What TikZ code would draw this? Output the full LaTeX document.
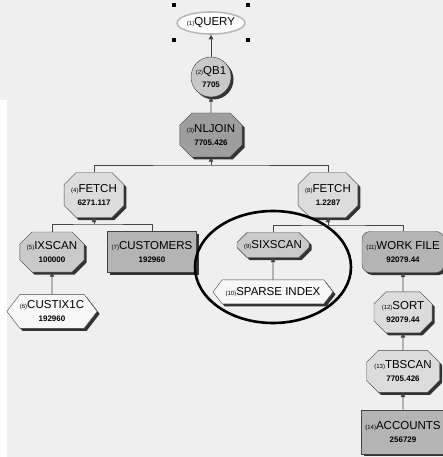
\documentclass[tikz,border=0pt]{standalone}
\usepackage{fontspec}
\setmainfont{Liberation Sans}
\usepackage{tikz}
\usetikzlibrary{arrows.meta,positioning,fit,shapes.geometric,shapes.misc,shapes.symbols,shadows}
\definecolor{PanelGray}{HTML}{EFEFEF}
\definecolor{EdgeGray}{HTML}{454545}
\definecolor{OpLight}{HTML}{DCDCDC}
\definecolor{OpMid}{HTML}{C8C8C8}
\definecolor{OpDark}{HTML}{9E9E9E}
\definecolor{TableGray}{HTML}{B4B4B4}
\definecolor{IdxWhite}{HTML}{F8F8F8}

\newcommand{\opno}[1]{{\fontsize{6}{6}\selectfont(#1)}}
\newcommand{\opcost}[1]{{\bfseries\fontsize{8}{9}\selectfont #1}}

\begin{document}
\begin{tikzpicture}[x=1pt, y=-1pt,
    font=\fontsize{11.5}{13}\selectfont,
    shade/.style={drop shadow={shadow xshift=2.5pt, shadow yshift=-2.5pt, opacity=1, fill=black!80}},
    oper/.style={chamfered rectangle, chamfered rectangle xsep=6pt, chamfered rectangle ysep=6pt, draw=EdgeGray, fill=OpLight, shade, align=center, inner sep=1pt},
    tbl/.style={rectangle, draw=EdgeGray, fill=TableGray, shade, align=center, inner sep=1pt},
    idx/.style={signal, signal to=east and west, signal pointer angle=105, draw=EdgeGray, fill=IdxWhite, shade, align=center, inner xsep=0pt, inner ysep=1pt},
    link/.style={draw=EdgeGray, line width=0.8pt},
    arr/.style={link, -{Triangle[length=4.5pt, width=4.5pt]}}
]
\fill[PanelGray] (0,0) rectangle (443,457);
\fill[white] (0,100) rectangle (7,457);
\useasboundingbox (0,0) rectangle (443,457);

\node[ellipse, draw=gray!55, line width=1.6pt, fill=white, minimum width=60pt, minimum height=22pt, inner sep=0pt] (query) at (211,23) {\opno{1}QUERY};
\node[fit=(query), inner xsep=2pt, inner ysep=5.5pt] (qsel) {};
\node[circle, draw=EdgeGray, fill=OpMid, shade, minimum size=40pt, inner sep=0pt, align=center] (qb) at (211,77) {\opno{2}QB1\\\opcost{7705}};
\node[oper, fill=OpDark, minimum width=54pt, minimum height=44pt] (nljoin) at (211,135) {\opno{3}NLJOIN\\\opcost{7705.426}};

\node[oper, minimum width=58pt, minimum height=45pt] (fetchl) at (94,195) {\opno{4}FETCH\\\opcost{6271.117}};
\node[oper, minimum width=55pt, minimum height=45pt] (fetchr) at (328,195) {\opno{8}FETCH\\\opcost{1.2287}};

\node[oper, fill=OpLight!92!black, minimum width=62pt, minimum height=40pt] (ixscan) at (52,252) {\opno{5}IXSCAN\\\opcost{100000}};
\node[tbl, minimum width=89pt, minimum height=41pt] (customers) at (152,252) {\opno{7}CUSTOMERS\\\opcost{192960}};
\node[idx, minimum width=90pt, minimum height=34pt, below=22pt of ixscan] (custix) {\opno{6}CUSTIX1C\\\opcost{192960}};

\node[oper, fill=OpLight!92!black, chamfered rectangle xsep=5pt, chamfered rectangle ysep=5pt, minimum width=72pt, minimum height=25pt] (sixscan) at (273,245) {\opno{9}SIXSCAN};
\node[idx, minimum width=120pt, minimum height=24pt, below=22pt of sixscan] (sparse) {\opno{10}SPARSE INDEX};

\node[tbl, rounded corners=8pt, minimum width=82pt, minimum height=41pt] (workfile) at (403,252) {\opno{11}WORK FILE\\\opcost{92079.44}};
\node[oper, minimum width=58pt, minimum height=41pt, below=19pt of workfile] (sort) {\opno{12}SORT\\\opcost{92079.44}};
\node[oper, minimum width=73pt, minimum height=42pt, below=17pt of sort] (tbscan) {\opno{13}TBSCAN\\\opcost{7705.426}};
\node[tbl, minimum width=84pt, minimum height=44pt, below=17pt of tbscan] (accounts) {\opno{14}ACCOUNTS\\\opcost{256729}};

\node[ellipse, draw=black, line width=2.6pt, minimum width=156pt, minimum height=112pt] (zone) at (273,267) {};

\coordinate (jtop) at (211,165);
\coordinate (jleft) at (94,224);
\coordinate (jright) at (328,225);
\draw[link] (fetchl.north) |- (jtop) -| (fetchr.north);
\draw[link] (ixscan.north) |- (jleft) -| (customers.north);
\draw[link] (sixscan.north) |- (jright) -| (workfile.north);
\draw[arr] (jtop) -- (nljoin.south);
\draw[arr] (jleft) -- (fetchl.south);
\draw[arr] (jright) -- (fetchr.south);
\foreach \a/\b in {qb/query,nljoin/qb,custix/ixscan,sparse/sixscan,sort/workfile,tbscan/sort,accounts/tbscan}{\draw[arr] (\a) -- (\b);}
\foreach \c in {north west,north east,south west,south east}{\fill[black] (qsel.\c) ++(-2pt,-2pt) rectangle ++(4pt,4pt);}
\end{tikzpicture}
\end{document}
